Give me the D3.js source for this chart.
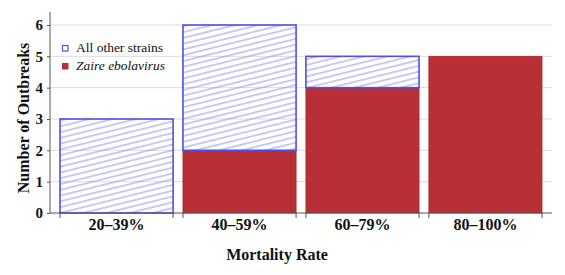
<!DOCTYPE html>
<html lang="en">
<head>
<meta charset="utf-8">
<script src="https://d3js.org/d3.v7.min.js"></script>
<style>
    body { margin: 0; background: #fff; }
    text { font-family: "Liberation Serif", "DejaVu Serif", serif; }
    .tick text { font-size: 15px; font-weight: bold; fill: #111; }
    .axis path, .axis line { stroke: #555; }
</style>
</head>
<body>
<svg id="chart" width="565" height="275"></svg>
<script>
    var categories = ["20\u201339%", "40\u201359%", "60\u201379%", "80\u2013100%"];
    var zaire = [0, 2, 4, 5];
    var otherStrains = [3, 4, 1, 0];
    var yTicks = [0, 1, 2, 3, 4, 5, 6];

    var svg = d3.select("#chart"),
        margin = {top: 12, right: 13, bottom: 62, left: 50},
        width = +svg.attr("width"),
        height = +svg.attr("height");

    var blue = "#5050e6", red = "#b83035";

    var x = d3.scaleBand()
        .domain(categories)
        .range([60, 542])
        .paddingInner(0.08)
        .paddingOuter(0);

    var y = d3.scaleLinear()
        .domain([0, 6])
        .range([213, 25]);

    var defs = svg.append("defs");
    defs.append("pattern")
        .attr("id", "hatch")
        .attr("patternUnits", "userSpaceOnUse")
        .attr("width", 20)
        .attr("height", 5.6)
        .attr("patternTransform", "rotate(-14)")
        .append("line")
        .attr("x1", 0).attr("x2", 20)
        .attr("y1", 2.8).attr("y2", 2.8)
        .attr("stroke", "#8585ee")
        .attr("stroke-width", 0.9);

    // grid
    svg.append("g")
        .selectAll("line")
        .data(yTicks.filter(d => d > 0))
        .join("line")
        .attr("x1", margin.left)
        .attr("x2", width - margin.right)
        .attr("y1", d => y(d))
        .attr("y2", d => y(d))
        .attr("stroke", "#dcdcdc")
        .attr("stroke-width", 1);

    // zaire bars
    svg.append("g")
        .selectAll("rect")
        .data(categories)
        .join("rect")
        .attr("x", d => x(d))
        .attr("width", x.bandwidth())
        .attr("y", (d, i) => y(zaire[i]))
        .attr("height", (d, i) => y(0) - y(zaire[i]))
        .attr("fill", red)
        .attr("stroke", "#a82a2e")
        .attr("stroke-width", 0.8);

    // other strains, stacked on top
    svg.append("g")
        .selectAll("rect")
        .data(categories.filter((d, i) => otherStrains[i] > 0))
        .join("rect")
        .attr("x", d => x(d))
        .attr("width", x.bandwidth())
        .attr("y", d => { var i = categories.indexOf(d); return y(zaire[i] + otherStrains[i]); })
        .attr("height", d => { var i = categories.indexOf(d); return y(zaire[i]) - y(zaire[i] + otherStrains[i]); })
        .attr("fill", "url(#hatch)")
        .attr("stroke", blue)
        .attr("stroke-width", 1.6);

    // axes
    var edges = [];
    categories.forEach(c => { edges.push(x(c)); edges.push(x(c) + x.bandwidth()); });

    var xAxis = svg.append("g")
        .attr("class", "axis")
        .attr("transform", "translate(0," + y(0) + ")");
    xAxis.append("line")
        .attr("x1", margin.left).attr("x2", width - margin.right)
        .attr("stroke", "#555");
    xAxis.selectAll(".edge")
        .data(edges)
        .join("line")
        .attr("class", "edge")
        .attr("x1", d => d).attr("x2", d => d)
        .attr("y1", 0).attr("y2", 5)
        .attr("stroke", "#777");
    xAxis.selectAll(".lbl")
        .data(categories)
        .join("text")
        .attr("class", "lbl")
        .attr("x", d => x(d) + x.bandwidth() / 2)
        .attr("y", 16.5)
        .attr("text-anchor", "middle")
        .style("font-size", "16px")
        .style("font-weight", "bold")
        .style("fill", "#111")
        .text(d => d);

    svg.append("g")
        .attr("class", "axis")
        .attr("transform", "translate(" + margin.left + ",0)")
        .call(d3.axisLeft(y).tickValues(yTicks).tickSize(3).tickPadding(4).tickFormat(d3.format("d")))
        .call(g => g.select(".domain").attr("d", "M0," + (y(0)) + "V" + 12));

    // axis titles
    svg.append("text")
        .attr("x", 277)
        .attr("y", 260)
        .attr("text-anchor", "middle")
        .style("font-size", "16px")
        .style("font-weight", "bold")
        .style("fill", "#111")
        .text("Mortality Rate");

    svg.append("text")
        .attr("transform", "translate(29,118) rotate(-90)")
        .attr("text-anchor", "middle")
        .style("font-size", "16px")
        .style("font-weight", "bold")
        .style("fill", "#111")
        .text("Number of Outbreaks");

    // legend
    var legend = svg.append("g").attr("transform", "translate(62,43)");
    legend.append("rect")
        .attr("x", 0.5).attr("y", 2.5).attr("width", 5.5).attr("height", 5.5)
        .attr("fill", "#fff").attr("stroke", blue).attr("stroke-width", 1.2);
    legend.append("text")
        .attr("x", 14).attr("y", 9)
        .style("font-size", "13.5px").style("fill", "#111")
        .text("All other strains");
    legend.append("rect")
        .attr("x", 0).attr("y", 20).attr("width", 6.5).attr("height", 6.5)
        .attr("fill", red);
    legend.append("text")
        .attr("x", 14).attr("y", 27)
        .style("font-size", "13.5px").style("font-style", "italic").style("fill", "#111")
        .text("Zaire ebolavirus");
</script>
</body>
</html>
